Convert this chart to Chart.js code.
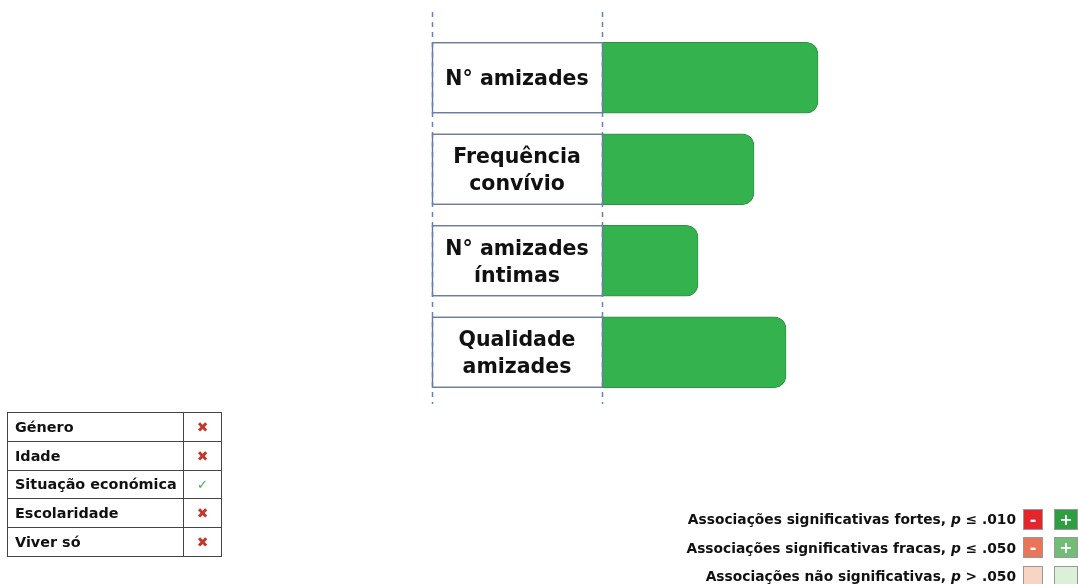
<!DOCTYPE html>
<html>
<head>
<meta charset="utf-8">
<script src="https://cdn.jsdelivr.net/npm/chart.js@4"></script>
<style>
  html, body { margin:0; padding:0; background:#fff; }
  body { width:1078px; height:584px; position:relative; overflow:hidden; font-family:"DejaVu Sans", sans-serif; }
  #c { position:absolute; left:0; top:0; }
  #tbl { position:absolute; left:7px; top:412px; border-collapse:collapse; font-weight:bold; font-size:14.4px; color:#111; }
  #tbl td { border:1px solid #444; height:27.8px; padding:0; }
  #tbl td.n { width:176px; padding-left:7px; box-sizing:border-box; }
  #tbl td.s { width:37px; text-align:center; }
  .x { color:#c0392b; font-size:14px; }
  .v { color:#3fae5a; font-weight:normal; font-size:13px; }
  #leg { position:absolute; right:0; top:505px; font-weight:bold; font-size:13.8px; color:#111; }
  .row { height:28.5px; display:flex; align-items:center; justify-content:flex-end; }
  .row span.t { margin-right:7px; }
  .box { width:20px; height:21px; box-sizing:border-box; border:1px solid #999; color:#fff; font-size:16px; display:flex; align-items:center; justify-content:center; margin-right:11px; }
  .box:last-child { margin-right:0; width:24px; }
</style>
</head>
<body>
<canvas id="c" width="1078" height="584"></canvas>
<table id="tbl"></table>
<div id="leg"></div>
<script>
// ---- data ----
const categories = [["N° amizades"], ["Frequência", "convívio"], ["N° amizades", "íntimas"], ["Qualidade", "amizades"]];
const values = [0.54, 0.38, 0.24, 0.46];
const tableVars = ["Género", "Idade", "Situação económica", "Escolaridade", "Viver só"];
const tableSig = [false, false, true, false, false];
const legendLabels = [
  ["Associações significativas fortes, ", "p", " ≤ .010"],
  ["Associações significativas fracas, ", "p", " ≤ .050"],
  ["Associações não significativas, ", "p", " > .050"]
];
const legendNeg = ["#e3262b", "#e8775a", "#f8d4c4"];
const legendPos = ["#2f9e41", "#72bd75", "#dcefd8"];
const legendSym = [["-", "+"], ["-", "+"], ["", ""]];

// ---- table ----
const tbl = document.getElementById('tbl');
tableVars.forEach((v, i) => {
  const tr = document.createElement('tr');
  tr.innerHTML = '<td class="n">' + v + '</td><td class="s">' +
    (tableSig[i] ? '<span class="v">✓</span>' : '<span class="x">✖</span>') + '</td>';
  tbl.appendChild(tr);
});

// ---- legend ----
const leg = document.getElementById('leg');
legendLabels.forEach((l, i) => {
  const d = document.createElement('div');
  d.className = 'row';
  d.innerHTML = '<span class="t">' + l[0] + '<i>' + l[1] + '</i>' + l[2] + '</span>' +
    '<div class="box" style="background:' + legendNeg[i] + '">' + legendSym[i][0] + '</div>' +
    '<div class="box" style="background:' + legendPos[i] + '">' + legendSym[i][1] + '</div>';
  leg.appendChild(d);
});

// ---- chart ----
const labelBoxes = {
  id: 'labelBoxes',
  afterDatasetsDraw(chart) {
    const ctx = chart.ctx;
    const meta = chart.getDatasetMeta(0);
    const left = chart.chartArea.left;
    const boxLeft = left - 170;
    ctx.save();
    meta.data.forEach((bar, i) => {
      const h = bar.height;
      const top = bar.y - h / 2;
      ctx.fillStyle = '#fff';
      ctx.fillRect(boxLeft, top, left - boxLeft, h);
      ctx.strokeStyle = '#6a7892';
      ctx.lineWidth = 1.4;
      ctx.strokeRect(boxLeft + 0.5, top + 0.5, left - boxLeft, h - 1);
      ctx.fillStyle = '#111';
      ctx.font = 'bold 20.5px "DejaVu Sans"';
      ctx.textAlign = 'center';
      ctx.textBaseline = 'middle';
      const lines = chart.data.labels[i];
      const lh = 27;
      lines.forEach((ln, k) => {
        ctx.fillText(ln, (boxLeft + left) / 2, bar.y + (k - (lines.length - 1) / 2) * lh + 2);
      });
    });
    // dashed guide lines
    ctx.strokeStyle = '#6680b8';
    ctx.lineWidth = 1.5;
    ctx.setLineDash([5, 5]);
    [boxLeft, left].forEach(x => {
      ctx.beginPath();
      ctx.moveTo(x + 0.5, 12);
      ctx.lineTo(x + 0.5, 404);
      ctx.stroke();
    });
    ctx.restore();
  }
};

new Chart(document.getElementById('c'), {
  type: 'bar',
  data: {
    labels: categories,
    datasets: [{
      data: values,
      backgroundColor: '#33b24d',
      borderColor: '#2c9242',
      borderWidth: 1,
      borderRadius: 12,
      borderSkipped: 'start',
      barThickness: 71
    }]
  },
  options: {
    indexAxis: 'y',
    responsive: false,
    animation: false,
    layout: { padding: { left: 602, right: 76, top: 32, bottom: 186 } },
    plugins: { legend: { display: false }, tooltip: { enabled: false } },
    scales: {
      x: { display: false, min: 0, max: 1 },
      y: { display: false }
    }
  },
  plugins: [labelBoxes]
});
</script>
</body>
</html>
